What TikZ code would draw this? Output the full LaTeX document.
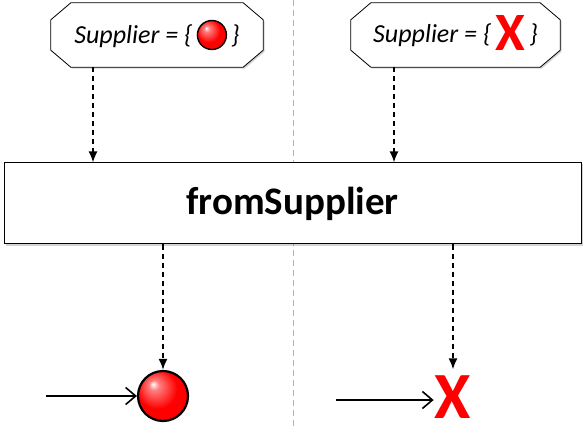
\documentclass[tikz,border=0pt]{standalone}
\usepackage{fontspec}
\newfontfamily\calibri{Carlito}
\usetikzlibrary{positioning,shadows,arrows.meta,backgrounds}

\pgfdeclareradialshading{redglow}{\pgfpoint{-10bp}{12bp}}{%
  color(0bp)=(white); color(5bp)=(red!50!white); color(20bp)=(red); color(50bp)=(red)}

\newcommand{\redball}[1]{\tikz[baseline=-0.33em]\shadedraw[shading=redglow,draw=black,line width=1.4pt] (0,0) circle (#1);}

% outline with cut corners round a named node
\newcommand{\chamferbox}[1]{%
  \draw[line width=0.8pt, fill=white,
    drop shadow={shadow xshift=1.5pt, shadow yshift=-1.5pt, opacity=0.35}]
    ([xshift=20pt]#1.north west) -- ([xshift=-20pt]#1.north east)
    -- ([yshift=-17pt]#1.north east) -- ([yshift=17pt]#1.south east)
    -- ([xshift=-20pt]#1.south east) -- ([xshift=20pt]#1.south west)
    -- ([yshift=17pt]#1.south west) -- ([yshift=-17pt]#1.north west) -- cycle;}

\begin{document}
\begin{tikzpicture}[x=1pt,y=-1pt,
    supplier/.style={rectangle, inner sep=0pt, minimum height=64pt,
      font=\calibri\itshape\fontsize{26}{28}\selectfont},
    operator/.style={rectangle, draw, line width=1pt, fill=white,
      minimum width=577pt, minimum height=81pt,
      drop shadow={shadow xshift=1.5pt, shadow yshift=-1.5pt, opacity=0.35},
      font=\calibri\bfseries\fontsize{39}{40}\selectfont},
    emit/.style={dash pattern=on 5pt off 4pt, line width=1.8pt,
      -{Latex[length=11pt,width=9pt]}},
    timeline/.style={line width=1.8pt, -{Straight Barb[length=10pt,width=17pt,line width=1.6pt]}},
    item/.style={circle, draw, line width=2.2pt, shading=redglow, minimum size=50pt, inner sep=0pt},
    errmark/.style={inner sep=0pt, text=red, font=\calibri\bfseries\fontsize{66}{66}\selectfont}]

  \useasboundingbox (0,0) rectangle (585,427);

  % divider between the two cases
  \draw[gray!60, line width=1pt, dash pattern=on 6pt off 4pt] (293,0) -- (293,427);

  \node[supplier, minimum width=212pt] (supL) at (157,35)
    {Supplier = \{\,\redball{14.5pt}\,\}};
  \node[supplier, minimum width=209pt] (supR) at (455.5,35)
    {Supplier = \{\,\smash{\raisebox{-8pt}{\color{red}\upshape\bfseries\fontsize{54}{54}\selectfont X}}\,\}};
  \begin{scope}[on background layer]
    \chamferbox{supL}
    \chamferbox{supR}
  \end{scope}

  \node[operator] (op) at (292.5,203.5) {fromSupplier};

  \node[item] (ball) at (163,396) {};
  \node[errmark] (err) at (453,397) {X};

  \coordinate (srcL) at (93,67);
  \coordinate (srcR) at (394,67);
  \coordinate (inL) at (46,396);
  \coordinate (inR) at (336,400);

  \draw[emit] (srcL) -- (srcL |- op.north);
  \draw[emit] (srcR) -- (srcR |- op.north);
  \draw[emit] (op.south -| ball) -- (ball);
  \draw[emit] (op.south -| err) -- ([yshift=6pt]err.north);

  \draw[timeline] (inL) -- (inL -| ball.west);
  \draw[timeline] (inR) -- ([xshift=-1pt]inR -| err.west);
\end{tikzpicture}
\end{document}
